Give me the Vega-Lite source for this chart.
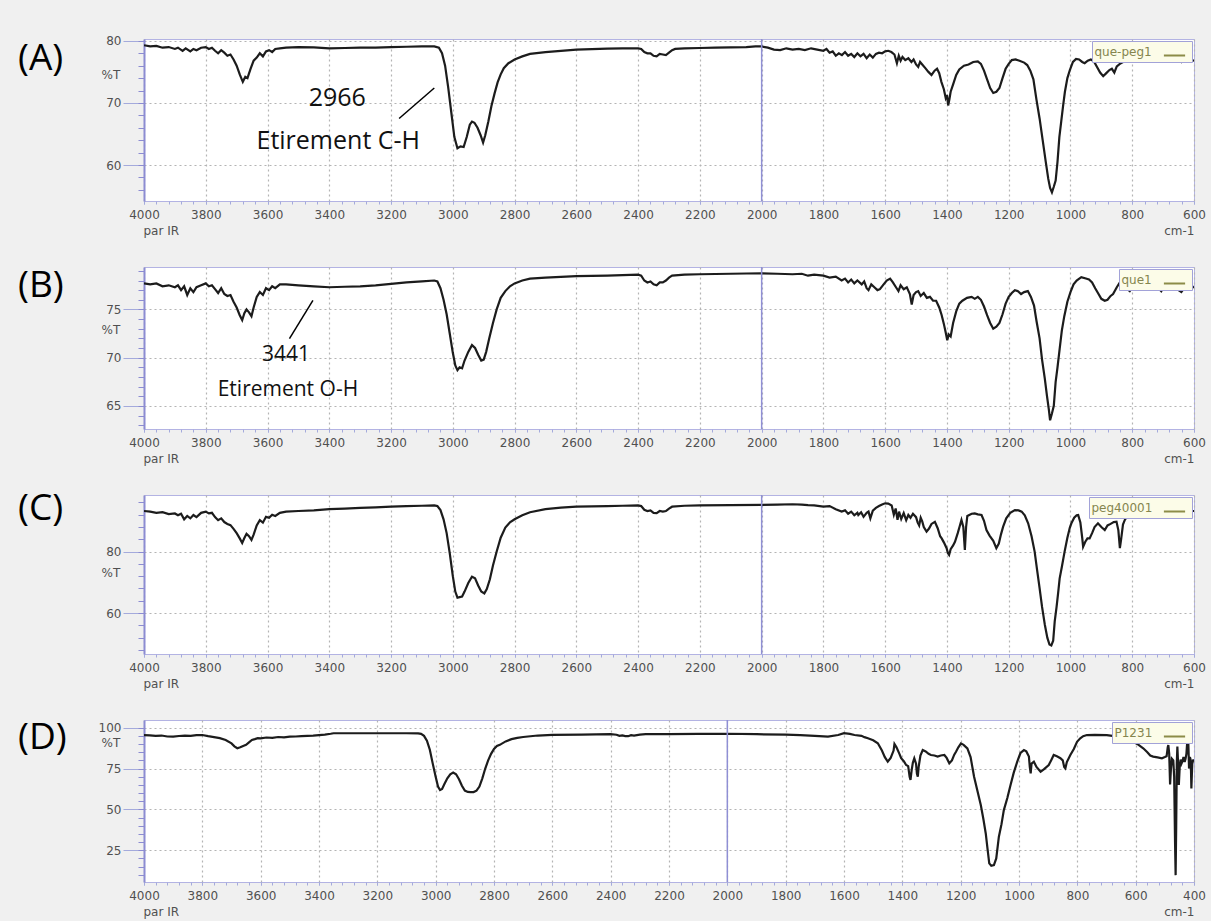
{
"$schema": "https://vega.github.io/schema/vega-lite/v6.json",
"background": "#f0f0f0",
"padding": {"left": 17, "top": 34, "right": 5, "bottom": 5},
"bounds": "flush",
"spacing": 66,
"resolve": {"scale": {"color": "independent", "x": "independent", "y": "independent"}, "legend": {"color": "independent"}},
"config": {
 "view": {"fill": "#ffffff", "stroke": "#b3b3e3", "strokeWidth": 1},
 "axis": {"labelFont": "DejaVu Sans", "labelFontSize": 12, "labelColor": "#505050", "titleFont": "DejaVu Sans", "titleFontSize": 12, "titleFontWeight": "normal", "titleColor": "#505050", "gridColor": "#b4b4b4", "gridDash": [2, 3], "gridWidth": 1.2, "tickColor": "#a4aadc", "domainColor": "#8c8cd2", "labelOverlap": false, "labelFlush": false},
 "legend": {"orient": "top-right", "offset": 2, "titleOrient": "left", "titleFont": "DejaVu Sans", "titleFontSize": 12, "titleFontWeight": "normal", "titleColor": "#85854e", "titlePadding": 10, "titleLimit": 200, "symbolType": "stroke", "symbolStrokeWidth": 2, "symbolSize": 450, "labelFontSize": 1, "labelOffset": 0, "padding": 2.5, "fillColor": "#fcfce8", "strokeColor": "#a2a2d8"},
 "title": {"font": "Open Sans", "fontSize": 37, "fontWeight": "normal", "color": "#000000", "anchor": "start", "frame": "group", "offset": 0}
},
"datasets": {
"A": [
{"w":4000,"T":79.3},{"w":3980,"T":79.1},{"w":3960,"T":79.2},{"w":3940,"T":78.9},{"w":3920,"T":79.0},{"w":3900,"T":78.7},{"w":3890,"T":78.9},{"w":3875,"T":78.4},{"w":3865,"T":78.8},{"w":3850,"T":78.3},{"w":3840,"T":78.7},{"w":3830,"T":78.5},{"w":3815,"T":78.9},{"w":3800,"T":79.0},{"w":3790,"T":78.7},{"w":3780,"T":78.9},{"w":3770,"T":78.4},{"w":3760,"T":78.0},{"w":3750,"T":78.5},{"w":3740,"T":78.1},{"w":3730,"T":77.6},{"w":3720,"T":77.8},{"w":3710,"T":77.0},{"w":3700,"T":76.0},{"w":3690,"T":74.6},{"w":3680,"T":73.4},{"w":3672,"T":74.2},{"w":3665,"T":74.0},{"w":3655,"T":75.5},{"w":3645,"T":76.8},{"w":3635,"T":77.3},{"w":3625,"T":78.0},{"w":3615,"T":77.5},{"w":3605,"T":78.3},{"w":3595,"T":78.5},{"w":3585,"T":78.2},{"w":3575,"T":78.7},{"w":3560,"T":78.8},{"w":3540,"T":78.9},{"w":3500,"T":79.0},{"w":3450,"T":78.95},{"w":3400,"T":78.8},{"w":3350,"T":78.85},{"w":3300,"T":78.9},{"w":3250,"T":78.9},{"w":3200,"T":79.0},{"w":3150,"T":79.05},{"w":3100,"T":79.1},{"w":3060,"T":79.1},{"w":3045,"T":78.9},{"w":3035,"T":78.0},{"w":3025,"T":76.0},{"w":3015,"T":72.5},{"w":3005,"T":68.5},{"w":2995,"T":64.5},{"w":2985,"T":62.7},{"w":2975,"T":63.0},{"w":2965,"T":62.9},{"w":2955,"T":64.5},{"w":2945,"T":66.5},{"w":2938,"T":67.0},{"w":2930,"T":66.8},{"w":2920,"T":66.0},{"w":2910,"T":64.8},{"w":2902,"T":63.6},{"w":2895,"T":64.8},{"w":2885,"T":67.0},{"w":2875,"T":69.5},{"w":2865,"T":71.5},{"w":2855,"T":73.3},{"w":2845,"T":74.6},{"w":2835,"T":75.6},{"w":2820,"T":76.4},{"w":2800,"T":77.0},{"w":2775,"T":77.5},{"w":2750,"T":77.9},{"w":2700,"T":78.2},{"w":2650,"T":78.4},{"w":2600,"T":78.6},{"w":2500,"T":78.75},{"w":2450,"T":78.8},{"w":2400,"T":78.8},{"w":2390,"T":78.7},{"w":2380,"T":78.2},{"w":2370,"T":78.0},{"w":2360,"T":78.0},{"w":2350,"T":77.6},{"w":2340,"T":77.5},{"w":2330,"T":77.9},{"w":2320,"T":77.8},{"w":2310,"T":77.7},{"w":2300,"T":78.1},{"w":2290,"T":78.5},{"w":2280,"T":78.7},{"w":2250,"T":78.8},{"w":2200,"T":78.85},{"w":2150,"T":78.9},{"w":2100,"T":78.95},{"w":2050,"T":79.0},{"w":2020,"T":79.1},{"w":2000,"T":79.1},{"w":1980,"T":78.9},{"w":1960,"T":78.6},{"w":1940,"T":78.5},{"w":1920,"T":78.8},{"w":1900,"T":78.6},{"w":1880,"T":78.7},{"w":1860,"T":78.5},{"w":1840,"T":78.8},{"w":1820,"T":78.6},{"w":1800,"T":78.4},{"w":1790,"T":78.7},{"w":1780,"T":78.1},{"w":1770,"T":78.3},{"w":1760,"T":77.6},{"w":1750,"T":78.0},{"w":1740,"T":77.7},{"w":1730,"T":78.2},{"w":1720,"T":77.6},{"w":1710,"T":77.9},{"w":1700,"T":77.4},{"w":1690,"T":78.0},{"w":1680,"T":77.5},{"w":1670,"T":77.9},{"w":1660,"T":77.2},{"w":1650,"T":77.8},{"w":1640,"T":77.3},{"w":1630,"T":77.9},{"w":1620,"T":78.1},{"w":1610,"T":78.0},{"w":1600,"T":78.3},{"w":1590,"T":78.4},{"w":1580,"T":78.2},{"w":1570,"T":77.8},{"w":1562,"T":76.4},{"w":1556,"T":77.6},{"w":1550,"T":76.8},{"w":1544,"T":77.4},{"w":1535,"T":76.9},{"w":1525,"T":77.2},{"w":1515,"T":76.6},{"w":1508,"T":77.0},{"w":1500,"T":76.2},{"w":1493,"T":75.8},{"w":1487,"T":76.6},{"w":1480,"T":76.2},{"w":1470,"T":75.6},{"w":1460,"T":75.0},{"w":1450,"T":74.5},{"w":1440,"T":75.2},{"w":1432,"T":75.5},{"w":1425,"T":74.8},{"w":1418,"T":73.4},{"w":1410,"T":72.2},{"w":1404,"T":70.8},{"w":1400,"T":71.3},{"w":1396,"T":69.6},{"w":1392,"T":70.6},{"w":1388,"T":71.8},{"w":1380,"T":73.0},{"w":1370,"T":74.5},{"w":1360,"T":75.4},{"w":1345,"T":76.0},{"w":1330,"T":76.2},{"w":1315,"T":76.6},{"w":1300,"T":76.7},{"w":1290,"T":76.3},{"w":1280,"T":75.2},{"w":1270,"T":73.8},{"w":1260,"T":72.4},{"w":1250,"T":71.6},{"w":1240,"T":71.8},{"w":1230,"T":72.4},{"w":1220,"T":74.0},{"w":1210,"T":75.5},{"w":1200,"T":76.3},{"w":1190,"T":76.9},{"w":1178,"T":77.0},{"w":1165,"T":76.8},{"w":1150,"T":76.5},{"w":1140,"T":76.1},{"w":1130,"T":75.2},{"w":1120,"T":73.8},{"w":1110,"T":70.5},{"w":1100,"T":67.5},{"w":1090,"T":64.0},{"w":1080,"T":60.5},{"w":1072,"T":57.8},{"w":1066,"T":56.3},{"w":1060,"T":55.6},{"w":1054,"T":56.5},{"w":1048,"T":57.5},{"w":1042,"T":60.5},{"w":1036,"T":64.5},{"w":1030,"T":67.0},{"w":1024,"T":69.5},{"w":1018,"T":71.8},{"w":1010,"T":74.0},{"w":1002,"T":75.3},{"w":992,"T":76.6},{"w":982,"T":77.1},{"w":972,"T":77.0},{"w":962,"T":76.6},{"w":954,"T":76.4},{"w":944,"T":76.8},{"w":934,"T":77.0},{"w":924,"T":76.7},{"w":914,"T":75.8},{"w":904,"T":74.9},{"w":894,"T":74.3},{"w":884,"T":74.8},{"w":874,"T":75.3},{"w":866,"T":75.5},{"w":858,"T":74.9},{"w":850,"T":75.9},{"w":840,"T":76.3},{"w":830,"T":76.6},{"w":810,"T":77.1},{"w":790,"T":77.3},{"w":770,"T":77.5},{"w":750,"T":77.6},{"w":735,"T":77.6},{"w":715,"T":77.4},{"w":700,"T":77.2},{"w":685,"T":77.0},{"w":675,"T":77.3},{"w":660,"T":76.9},{"w":650,"T":77.0},{"w":640,"T":76.6},{"w":630,"T":77.0},{"w":615,"T":76.9},{"w":600,"T":76.8}
],
"B": [
{"w":4000,"T":77.7},{"w":3980,"T":77.6},{"w":3960,"T":77.7},{"w":3940,"T":77.4},{"w":3920,"T":77.5},{"w":3900,"T":77.3},{"w":3890,"T":77.5},{"w":3880,"T":77.0},{"w":3870,"T":77.4},{"w":3860,"T":76.5},{"w":3850,"T":77.2},{"w":3840,"T":76.8},{"w":3830,"T":77.3},{"w":3815,"T":77.5},{"w":3800,"T":77.7},{"w":3790,"T":77.4},{"w":3780,"T":77.5},{"w":3770,"T":77.1},{"w":3760,"T":76.7},{"w":3750,"T":77.2},{"w":3740,"T":76.6},{"w":3730,"T":76.4},{"w":3720,"T":76.5},{"w":3710,"T":75.8},{"w":3700,"T":75.2},{"w":3690,"T":74.4},{"w":3682,"T":73.9},{"w":3675,"T":74.6},{"w":3668,"T":75.0},{"w":3660,"T":74.7},{"w":3652,"T":74.3},{"w":3645,"T":75.2},{"w":3635,"T":76.3},{"w":3625,"T":76.8},{"w":3615,"T":76.5},{"w":3605,"T":77.2},{"w":3595,"T":77.0},{"w":3585,"T":77.4},{"w":3575,"T":77.2},{"w":3560,"T":77.6},{"w":3540,"T":77.6},{"w":3500,"T":77.5},{"w":3450,"T":77.4},{"w":3400,"T":77.3},{"w":3350,"T":77.35},{"w":3300,"T":77.4},{"w":3250,"T":77.5},{"w":3200,"T":77.65},{"w":3150,"T":77.8},{"w":3100,"T":77.9},{"w":3060,"T":78.0},{"w":3050,"T":77.9},{"w":3040,"T":77.2},{"w":3030,"T":76.0},{"w":3020,"T":74.5},{"w":3010,"T":72.5},{"w":3000,"T":70.5},{"w":2992,"T":69.2},{"w":2985,"T":68.7},{"w":2978,"T":69.0},{"w":2970,"T":68.9},{"w":2962,"T":69.7},{"w":2950,"T":70.6},{"w":2938,"T":71.3},{"w":2928,"T":71.0},{"w":2918,"T":70.3},{"w":2908,"T":69.7},{"w":2900,"T":69.8},{"w":2892,"T":70.6},{"w":2882,"T":72.0},{"w":2870,"T":73.6},{"w":2858,"T":75.0},{"w":2845,"T":76.2},{"w":2830,"T":76.9},{"w":2815,"T":77.4},{"w":2800,"T":77.7},{"w":2775,"T":78.0},{"w":2750,"T":78.2},{"w":2700,"T":78.3},{"w":2600,"T":78.45},{"w":2500,"T":78.5},{"w":2450,"T":78.55},{"w":2400,"T":78.6},{"w":2390,"T":78.5},{"w":2380,"T":78.0},{"w":2370,"T":77.8},{"w":2360,"T":77.9},{"w":2350,"T":77.6},{"w":2340,"T":77.5},{"w":2330,"T":77.8},{"w":2320,"T":77.8},{"w":2310,"T":78.0},{"w":2300,"T":78.3},{"w":2290,"T":78.5},{"w":2250,"T":78.6},{"w":2200,"T":78.65},{"w":2100,"T":78.7},{"w":2000,"T":78.75},{"w":1950,"T":78.7},{"w":1900,"T":78.65},{"w":1870,"T":78.7},{"w":1850,"T":78.5},{"w":1830,"T":78.6},{"w":1800,"T":78.5},{"w":1780,"T":78.3},{"w":1760,"T":78.4},{"w":1741,"T":78.0},{"w":1730,"T":78.2},{"w":1720,"T":77.8},{"w":1710,"T":78.1},{"w":1700,"T":77.7},{"w":1690,"T":78.0},{"w":1676,"T":77.6},{"w":1668,"T":77.9},{"w":1660,"T":77.2},{"w":1654,"T":77.0},{"w":1645,"T":77.6},{"w":1635,"T":77.3},{"w":1625,"T":77.0},{"w":1617,"T":77.1},{"w":1605,"T":77.6},{"w":1595,"T":78.0},{"w":1584,"T":78.2},{"w":1575,"T":77.8},{"w":1565,"T":77.3},{"w":1557,"T":76.9},{"w":1550,"T":77.5},{"w":1540,"T":77.1},{"w":1530,"T":77.3},{"w":1520,"T":76.6},{"w":1514,"T":75.5},{"w":1508,"T":76.5},{"w":1500,"T":76.8},{"w":1493,"T":76.9},{"w":1485,"T":76.4},{"w":1475,"T":76.7},{"w":1465,"T":76.2},{"w":1455,"T":76.3},{"w":1445,"T":75.9},{"w":1435,"T":75.9},{"w":1425,"T":75.2},{"w":1417,"T":74.4},{"w":1410,"T":73.5},{"w":1404,"T":72.6},{"w":1399,"T":71.8},{"w":1394,"T":72.4},{"w":1388,"T":72.2},{"w":1380,"T":73.6},{"w":1370,"T":74.8},{"w":1360,"T":75.6},{"w":1350,"T":75.9},{"w":1335,"T":76.2},{"w":1320,"T":76.3},{"w":1310,"T":76.1},{"w":1300,"T":76.3},{"w":1290,"T":76.0},{"w":1280,"T":75.3},{"w":1270,"T":74.4},{"w":1260,"T":73.6},{"w":1250,"T":73.0},{"w":1240,"T":73.2},{"w":1230,"T":73.6},{"w":1220,"T":74.5},{"w":1210,"T":75.6},{"w":1200,"T":76.3},{"w":1190,"T":76.7},{"w":1180,"T":77.0},{"w":1170,"T":76.9},{"w":1160,"T":76.6},{"w":1150,"T":76.8},{"w":1138,"T":76.9},{"w":1128,"T":76.3},{"w":1118,"T":75.4},{"w":1110,"T":73.8},{"w":1100,"T":72.0},{"w":1092,"T":69.8},{"w":1083,"T":67.8},{"w":1076,"T":66.0},{"w":1070,"T":64.6},{"w":1066,"T":63.5},{"w":1060,"T":64.2},{"w":1054,"T":65.0},{"w":1048,"T":67.5},{"w":1042,"T":69.0},{"w":1035,"T":70.9},{"w":1028,"T":72.8},{"w":1020,"T":74.3},{"w":1010,"T":75.8},{"w":1000,"T":76.8},{"w":990,"T":77.6},{"w":980,"T":78.0},{"w":965,"T":78.35},{"w":950,"T":78.2},{"w":940,"T":78.1},{"w":930,"T":77.8},{"w":920,"T":77.2},{"w":911,"T":76.7},{"w":900,"T":76.1},{"w":889,"T":75.9},{"w":880,"T":76.0},{"w":870,"T":76.4},{"w":862,"T":76.6},{"w":850,"T":77.3},{"w":840,"T":77.8},{"w":835,"T":78.0},{"w":825,"T":77.6},{"w":815,"T":77.1},{"w":808,"T":76.9},{"w":798,"T":77.4},{"w":790,"T":77.8},{"w":781,"T":77.9},{"w":760,"T":77.8},{"w":740,"T":77.7},{"w":727,"T":77.4},{"w":715,"T":77.2},{"w":706,"T":76.9},{"w":698,"T":77.3},{"w":690,"T":77.8},{"w":684,"T":77.9},{"w":670,"T":77.6},{"w":660,"T":77.3},{"w":650,"T":77.0},{"w":641,"T":76.8},{"w":632,"T":77.2},{"w":625,"T":77.9},{"w":619,"T":78.0},{"w":610,"T":77.6},{"w":603,"T":77.3},{"w":600,"T":77.3}
],
"C": [
{"w":4000,"T":93.2},{"w":3980,"T":93.0},{"w":3960,"T":92.6},{"w":3940,"T":92.8},{"w":3920,"T":92.2},{"w":3900,"T":92.4},{"w":3890,"T":91.8},{"w":3880,"T":92.3},{"w":3870,"T":90.5},{"w":3860,"T":91.6},{"w":3850,"T":90.8},{"w":3840,"T":91.9},{"w":3830,"T":91.2},{"w":3815,"T":92.6},{"w":3800,"T":93.0},{"w":3790,"T":92.4},{"w":3780,"T":92.6},{"w":3770,"T":91.2},{"w":3760,"T":90.2},{"w":3750,"T":90.8},{"w":3740,"T":89.6},{"w":3730,"T":89.0},{"w":3720,"T":88.6},{"w":3710,"T":87.4},{"w":3700,"T":86.0},{"w":3690,"T":84.3},{"w":3682,"T":82.8},{"w":3675,"T":84.4},{"w":3668,"T":85.8},{"w":3660,"T":85.0},{"w":3652,"T":83.8},{"w":3645,"T":85.5},{"w":3635,"T":88.5},{"w":3625,"T":90.2},{"w":3615,"T":89.4},{"w":3605,"T":91.3},{"w":3595,"T":91.0},{"w":3585,"T":92.0},{"w":3575,"T":91.6},{"w":3560,"T":92.6},{"w":3540,"T":93.0},{"w":3500,"T":93.2},{"w":3450,"T":93.4},{"w":3400,"T":93.8},{"w":3350,"T":94.0},{"w":3300,"T":94.2},{"w":3250,"T":94.4},{"w":3200,"T":94.6},{"w":3150,"T":94.8},{"w":3100,"T":94.9},{"w":3060,"T":95.0},{"w":3050,"T":94.8},{"w":3040,"T":93.5},{"w":3030,"T":90.5},{"w":3020,"T":86.0},{"w":3010,"T":79.5},{"w":3000,"T":72.0},{"w":2992,"T":67.0},{"w":2985,"T":65.0},{"w":2978,"T":65.2},{"w":2970,"T":65.4},{"w":2962,"T":67.0},{"w":2950,"T":69.8},{"w":2938,"T":71.8},{"w":2928,"T":71.3},{"w":2918,"T":69.0},{"w":2908,"T":67.0},{"w":2898,"T":66.4},{"w":2890,"T":67.8},{"w":2880,"T":71.0},{"w":2870,"T":75.5},{"w":2858,"T":80.0},{"w":2845,"T":84.5},{"w":2830,"T":87.8},{"w":2815,"T":89.5},{"w":2800,"T":90.5},{"w":2775,"T":91.8},{"w":2750,"T":92.8},{"w":2700,"T":93.8},{"w":2650,"T":94.3},{"w":2600,"T":94.6},{"w":2500,"T":94.8},{"w":2450,"T":94.9},{"w":2400,"T":95.0},{"w":2390,"T":94.8},{"w":2380,"T":93.6},{"w":2370,"T":93.2},{"w":2360,"T":93.4},{"w":2350,"T":92.6},{"w":2340,"T":92.5},{"w":2330,"T":93.2},{"w":2320,"T":93.0},{"w":2310,"T":93.2},{"w":2300,"T":94.0},{"w":2290,"T":94.6},{"w":2250,"T":94.9},{"w":2200,"T":95.0},{"w":2100,"T":95.1},{"w":2000,"T":95.2},{"w":1950,"T":95.3},{"w":1900,"T":95.4},{"w":1870,"T":95.3},{"w":1850,"T":95.1},{"w":1830,"T":95.0},{"w":1800,"T":94.6},{"w":1780,"T":94.8},{"w":1760,"T":93.8},{"w":1741,"T":93.0},{"w":1730,"T":93.4},{"w":1720,"T":92.3},{"w":1710,"T":93.0},{"w":1700,"T":91.8},{"w":1690,"T":92.6},{"w":1687,"T":91.9},{"w":1678,"T":92.8},{"w":1670,"T":91.3},{"w":1660,"T":92.6},{"w":1654,"T":93.0},{"w":1648,"T":90.8},{"w":1640,"T":93.3},{"w":1630,"T":94.2},{"w":1620,"T":94.8},{"w":1610,"T":95.3},{"w":1600,"T":95.7},{"w":1590,"T":95.6},{"w":1579,"T":95.0},{"w":1572,"T":92.0},{"w":1566,"T":94.0},{"w":1560,"T":90.3},{"w":1555,"T":93.0},{"w":1548,"T":90.6},{"w":1540,"T":92.5},{"w":1532,"T":90.2},{"w":1525,"T":91.9},{"w":1518,"T":91.0},{"w":1510,"T":92.3},{"w":1500,"T":91.2},{"w":1495,"T":89.5},{"w":1490,"T":88.5},{"w":1485,"T":91.0},{"w":1480,"T":89.8},{"w":1475,"T":88.0},{"w":1466,"T":86.5},{"w":1458,"T":87.5},{"w":1450,"T":89.0},{"w":1439,"T":89.7},{"w":1430,"T":87.6},{"w":1422,"T":85.0},{"w":1417,"T":84.3},{"w":1410,"T":83.0},{"w":1401,"T":81.1},{"w":1397,"T":79.5},{"w":1393,"T":78.9},{"w":1388,"T":80.8},{"w":1380,"T":82.0},{"w":1374,"T":83.2},{"w":1365,"T":86.0},{"w":1358,"T":88.5},{"w":1353,"T":90.3},{"w":1347,"T":88.0},{"w":1342,"T":80.5},{"w":1338,"T":88.0},{"w":1334,"T":91.6},{"w":1320,"T":92.3},{"w":1310,"T":92.4},{"w":1300,"T":92.1},{"w":1288,"T":91.9},{"w":1280,"T":90.0},{"w":1272,"T":87.0},{"w":1262,"T":85.2},{"w":1250,"T":83.5},{"w":1240,"T":81.1},{"w":1232,"T":82.6},{"w":1225,"T":85.6},{"w":1218,"T":88.1},{"w":1208,"T":90.8},{"w":1195,"T":92.6},{"w":1180,"T":93.5},{"w":1168,"T":93.4},{"w":1158,"T":93.0},{"w":1148,"T":91.8},{"w":1137,"T":89.2},{"w":1126,"T":85.0},{"w":1116,"T":80.0},{"w":1108,"T":74.0},{"w":1100,"T":68.1},{"w":1092,"T":62.0},{"w":1083,"T":56.2},{"w":1075,"T":52.0},{"w":1068,"T":49.8},{"w":1062,"T":49.5},{"w":1056,"T":51.0},{"w":1051,"T":57.3},{"w":1045,"T":62.0},{"w":1040,"T":66.5},{"w":1035,"T":71.3},{"w":1028,"T":75.0},{"w":1019,"T":80.0},{"w":1010,"T":84.5},{"w":1002,"T":87.8},{"w":997,"T":89.2},{"w":988,"T":91.0},{"w":980,"T":91.8},{"w":975,"T":91.9},{"w":968,"T":89.5},{"w":962,"T":84.5},{"w":959,"T":81.6},{"w":952,"T":83.2},{"w":945,"T":84.3},{"w":938,"T":84.3},{"w":930,"T":86.0},{"w":922,"T":88.0},{"w":911,"T":89.2},{"w":900,"T":88.0},{"w":889,"T":87.0},{"w":880,"T":88.5},{"w":870,"T":89.0},{"w":860,"T":89.6},{"w":851,"T":89.7},{"w":845,"T":87.0},{"w":840,"T":81.1},{"w":836,"T":84.0},{"w":830,"T":88.8},{"w":824,"T":90.3},{"w":815,"T":91.7},{"w":805,"T":92.8},{"w":792,"T":93.5},{"w":780,"T":93.6},{"w":760,"T":93.4},{"w":740,"T":93.5},{"w":720,"T":93.3},{"w":700,"T":93.4},{"w":690,"T":92.8},{"w":684,"T":93.0},{"w":670,"T":93.4},{"w":650,"T":93.1},{"w":630,"T":93.4},{"w":610,"T":93.2},{"w":600,"T":93.2}
],
"D": [
{"w":4000,"T":95.5},{"w":3980,"T":95.3},{"w":3960,"T":95.0},{"w":3940,"T":95.2},{"w":3920,"T":94.6},{"w":3900,"T":94.5},{"w":3880,"T":94.9},{"w":3860,"T":95.1},{"w":3840,"T":95.0},{"w":3820,"T":95.4},{"w":3800,"T":95.5},{"w":3780,"T":94.8},{"w":3760,"T":94.2},{"w":3740,"T":93.6},{"w":3720,"T":92.5},{"w":3700,"T":90.4},{"w":3690,"T":88.6},{"w":3680,"T":87.4},{"w":3670,"T":88.0},{"w":3660,"T":88.8},{"w":3650,"T":89.5},{"w":3640,"T":91.0},{"w":3630,"T":92.5},{"w":3620,"T":93.0},{"w":3610,"T":93.6},{"w":3600,"T":93.5},{"w":3580,"T":94.0},{"w":3560,"T":93.8},{"w":3540,"T":94.3},{"w":3520,"T":94.1},{"w":3500,"T":94.5},{"w":3480,"T":94.6},{"w":3460,"T":94.8},{"w":3440,"T":95.0},{"w":3420,"T":95.2},{"w":3400,"T":95.5},{"w":3380,"T":95.8},{"w":3360,"T":96.3},{"w":3350,"T":96.6},{"w":3300,"T":96.6},{"w":3200,"T":96.6},{"w":3100,"T":96.6},{"w":3060,"T":96.5},{"w":3050,"T":96.2},{"w":3040,"T":95.0},{"w":3030,"T":92.0},{"w":3020,"T":86.5},{"w":3010,"T":78.0},{"w":3000,"T":70.0},{"w":2992,"T":64.0},{"w":2985,"T":61.8},{"w":2978,"T":62.5},{"w":2970,"T":65.5},{"w":2960,"T":69.0},{"w":2950,"T":71.5},{"w":2940,"T":72.6},{"w":2930,"T":71.5},{"w":2920,"T":68.5},{"w":2910,"T":64.5},{"w":2900,"T":61.5},{"w":2890,"T":60.7},{"w":2880,"T":60.6},{"w":2870,"T":60.6},{"w":2860,"T":61.5},{"w":2850,"T":64.0},{"w":2840,"T":69.0},{"w":2830,"T":75.0},{"w":2820,"T":80.0},{"w":2810,"T":84.0},{"w":2800,"T":87.0},{"w":2790,"T":88.8},{"w":2780,"T":89.5},{"w":2760,"T":91.6},{"w":2740,"T":93.0},{"w":2720,"T":93.8},{"w":2700,"T":94.3},{"w":2650,"T":95.2},{"w":2600,"T":95.6},{"w":2500,"T":95.8},{"w":2450,"T":95.9},{"w":2400,"T":96.0},{"w":2380,"T":95.7},{"w":2370,"T":95.0},{"w":2360,"T":95.3},{"w":2350,"T":94.8},{"w":2340,"T":94.8},{"w":2330,"T":95.4},{"w":2320,"T":95.2},{"w":2300,"T":95.8},{"w":2280,"T":96.0},{"w":2200,"T":96.1},{"w":2100,"T":96.2},{"w":2000,"T":96.3},{"w":1900,"T":96.0},{"w":1800,"T":95.8},{"w":1750,"T":95.5},{"w":1700,"T":95.0},{"w":1655,"T":94.5},{"w":1620,"T":95.5},{"w":1600,"T":96.6},{"w":1580,"T":96.2},{"w":1564,"T":95.5},{"w":1540,"T":95.0},{"w":1530,"T":94.2},{"w":1518,"T":93.5},{"w":1500,"T":92.3},{"w":1484,"T":90.5},{"w":1470,"T":86.0},{"w":1460,"T":82.0},{"w":1450,"T":79.2},{"w":1440,"T":81.5},{"w":1430,"T":86.0},{"w":1427,"T":90.0},{"w":1420,"T":88.0},{"w":1410,"T":84.0},{"w":1404,"T":81.3},{"w":1395,"T":79.5},{"w":1387,"T":77.2},{"w":1380,"T":76.5},{"w":1375,"T":70.0},{"w":1372,"T":68.0},{"w":1368,"T":74.0},{"w":1364,"T":78.5},{"w":1359,"T":81.3},{"w":1353,"T":78.0},{"w":1350,"T":72.0},{"w":1347,"T":70.0},{"w":1344,"T":76.0},{"w":1338,"T":83.0},{"w":1330,"T":86.3},{"w":1320,"T":85.5},{"w":1310,"T":84.0},{"w":1302,"T":83.3},{"w":1290,"T":83.0},{"w":1279,"T":82.3},{"w":1268,"T":83.0},{"w":1256,"T":83.3},{"w":1248,"T":81.5},{"w":1239,"T":78.2},{"w":1230,"T":80.0},{"w":1222,"T":83.5},{"w":1216,"T":85.3},{"w":1208,"T":88.0},{"w":1199,"T":90.4},{"w":1190,"T":89.5},{"w":1177,"T":87.3},{"w":1166,"T":82.0},{"w":1154,"T":70.0},{"w":1142,"T":61.0},{"w":1131,"T":52.7},{"w":1122,"T":44.0},{"w":1114,"T":35.3},{"w":1108,"T":26.0},{"w":1102,"T":17.0},{"w":1095,"T":15.5},{"w":1086,"T":15.9},{"w":1078,"T":20.0},{"w":1069,"T":33.3},{"w":1060,"T":41.0},{"w":1052,"T":49.6},{"w":1040,"T":57.0},{"w":1029,"T":64.9},{"w":1018,"T":72.5},{"w":1006,"T":79.2},{"w":995,"T":84.5},{"w":983,"T":86.3},{"w":975,"T":85.5},{"w":966,"T":82.3},{"w":963,"T":76.0},{"w":960,"T":72.1},{"w":957,"T":78.0},{"w":949,"T":79.2},{"w":940,"T":76.0},{"w":926,"T":73.1},{"w":915,"T":74.5},{"w":898,"T":77.2},{"w":890,"T":80.0},{"w":881,"T":83.3},{"w":870,"T":82.5},{"w":858,"T":81.3},{"w":850,"T":80.0},{"w":845,"T":76.0},{"w":841,"T":75.1},{"w":836,"T":79.0},{"w":824,"T":83.3},{"w":812,"T":87.0},{"w":801,"T":91.4},{"w":790,"T":93.5},{"w":780,"T":94.8},{"w":767,"T":95.5},{"w":740,"T":95.6},{"w":699,"T":95.5},{"w":680,"T":95.0},{"w":660,"T":94.5},{"w":640,"T":93.8},{"w":631,"T":93.5},{"w":610,"T":91.5},{"w":590,"T":89.5},{"w":574,"T":87.4},{"w":560,"T":85.0},{"w":550,"T":83.0},{"w":540,"T":82.3},{"w":525,"T":81.8},{"w":510,"T":81.3},{"w":500,"T":82.0},{"w":494,"T":82.5},{"w":490,"T":88.0},{"w":488,"T":89.4},{"w":485,"T":84.0},{"w":482,"T":65.3},{"w":479,"T":75.0},{"w":476,"T":81.0},{"w":471,"T":80.0},{"w":468,"T":70.0},{"w":465,"T":30.0},{"w":463,"T":9.8},{"w":461,"T":40.0},{"w":459,"T":78.0},{"w":457,"T":88.4},{"w":455,"T":80.0},{"w":452,"T":65.0},{"w":449,"T":76.0},{"w":446,"T":80.5},{"w":443,"T":78.0},{"w":440,"T":79.2},{"w":436,"T":82.0},{"w":432,"T":79.0},{"w":429,"T":81.0},{"w":426,"T":84.0},{"w":423,"T":92.0},{"w":421,"T":99.6},{"w":419,"T":88.0},{"w":417,"T":75.0},{"w":414,"T":82.0},{"w":411,"T":80.0},{"w":409,"T":62.8},{"w":406,"T":78.0},{"w":403,"T":80.0},{"w":400,"T":80.0}
]
},
"vconcat": [
{
 "width": 1050, "height": 162,
 "title": {"text": "(A)", "dx": -126, "dy": 47},
 "resolve": {"axis": {"x": "independent", "y": "independent"}},
 "layer": [
  {"data": {"name": "A"}, "mark": {"type": "line", "strokeWidth": 2.2, "clip": true, "color": "#1c1c1c"},
   "encoding": {
    "x": {"field": "w", "type": "quantitative", "scale": {"domain": [4000, 600], "nice": false, "zero": false},
     "axis": {"orient": "bottom", "values": [4000,3800,3600,3400,3200,3000,2800,2600,2400,2200,2000,1800,1600,1400,1200,1000,800,600], "format": "d", "grid": true, "domain": false, "tickSize": 3, "labelPadding": 5, "title": "cm-1", "titleX": 1050, "titleY": 29, "titleAlign": "right", "titleBaseline": "middle"}},
    "y": {"field": "T", "type": "quantitative", "scale": {"domain": [54.2, 80.3], "nice": false, "zero": false},
     "axis": {"orient": "left", "values": [60, 70, 80], "grid": true, "domain": false, "tickSize": 21, "labelPadding": 2, "title": "%T", "titleAngle": 0, "titleX": -43, "titleY": 35, "titleAlign": "left", "titleBaseline": "middle"}}
   }},
  {"data": {"values": [{}]}, "mark": {"type": "rule", "color": "#8f8fd4", "strokeWidth": 1.5},
   "encoding": {
    "x": {"datum": 2000, "type": "quantitative", "axis": {"orient": "bottom", "values": [4000,3960,3920,3880,3840,3800,3760,3720,3680,3640,3600,3560,3520,3480,3440,3400,3360,3320,3280,3240,3200,3160,3120,3080,3040,3000,2960,2920,2880,2840,2800,2760,2720,2680,2640,2600,2560,2520,2480,2440,2400,2360,2320,2280,2240,2200,2160,2120,2080,2040,2000,1960,1920,1880,1840,1800,1760,1720,1680,1640,1600,1560,1520,1480,1440,1400,1360,1320,1280,1240,1200,1160,1120,1080,1040,1000,960,920,880,840,800,760,720,680,640,600], "labels": false, "grid": false, "domain": false, "tickSize": 3, "title": "par IR", "titleX": -1, "titleY": 29, "titleAlign": "left", "titleBaseline": "middle"}},
    "y": {"datum": 54.2, "type": "quantitative", "axis": {"orient": "left", "values": [56,58,60,62,64,66,68,70,72,74,76,78,80], "labels": false, "grid": false, "domain": true, "domainWidth": 2, "tickSize": 6, "tickColor": "#8c8cd2", "title": null}},
    "y2": {"datum": 80.3}
   }},
  {"data": {"values": [{}]}, "mark": {"type": "rule", "strokeWidth": 2, "strokeCap": "butt"},
   "encoding": {
    "x": {"datum": 2000, "type": "quantitative", "axis": null},
    "y": {"datum": 80.3, "type": "quantitative", "axis": null},
    "y2": {"datum": 80.3},
    "color": {"datum": "que-peg1", "type": "nominal", "scale": {"range": ["#8c8c48"]}, "legend": {"title": "que-peg1", "labelExpr": "''"}}
   }},
  {"data": {"values": [{"w": 3174, "T": 67.5, "w2": 3060, "T2": 72.4}]}, "mark": {"type": "rule", "color": "#000000", "strokeWidth": 1.5},
   "encoding": {"x": {"field": "w", "type": "quantitative", "axis": null}, "y": {"field": "T", "type": "quantitative", "axis": null}, "x2": {"field": "w2"}, "y2": {"field": "T2"}}},
  {"data": {"values": [{"w": 3374, "T": 70.8, "t": "2966"}, {"w": 3371, "T": 63.8, "t": "Etirement C-H"}]}, "mark": {"type": "text", "font": "Open Sans", "fontSize": 25, "align": "center", "baseline": "middle", "color": "#111111"},
   "encoding": {"x": {"field": "w", "type": "quantitative", "axis": null}, "y": {"field": "T", "type": "quantitative", "axis": null}, "text": {"field": "t"}}}
 ]
},
{
 "width": 1050, "height": 162,
 "title": {"text": "(B)", "dx": -126, "dy": 43},
 "resolve": {"axis": {"x": "independent", "y": "independent"}},
 "layer": [
  {"data": {"name": "B"}, "mark": {"type": "line", "strokeWidth": 2.2, "clip": true, "color": "#1c1c1c"},
   "encoding": {
    "x": {"field": "w", "type": "quantitative", "scale": {"domain": [4000, 600], "nice": false, "zero": false},
     "axis": {"orient": "bottom", "values": [4000,3800,3600,3400,3200,3000,2800,2600,2400,2200,2000,1800,1600,1400,1200,1000,800,600], "format": "d", "grid": true, "domain": false, "tickSize": 3, "labelPadding": 5, "title": "cm-1", "titleX": 1050, "titleY": 29, "titleAlign": "right", "titleBaseline": "middle"}},
    "y": {"field": "T", "type": "quantitative", "scale": {"domain": [62.6, 79.4], "nice": false, "zero": false},
     "axis": {"orient": "left", "values": [65, 70, 75], "grid": true, "domain": false, "tickSize": 21, "labelPadding": 2, "title": "%T", "titleAngle": 0, "titleX": -43, "titleY": 62, "titleAlign": "left", "titleBaseline": "middle"}}
   }},
  {"data": {"values": [{}]}, "mark": {"type": "rule", "color": "#8f8fd4", "strokeWidth": 1.5},
   "encoding": {
    "x": {"datum": 2000, "type": "quantitative", "axis": {"orient": "bottom", "values": [4000,3960,3920,3880,3840,3800,3760,3720,3680,3640,3600,3560,3520,3480,3440,3400,3360,3320,3280,3240,3200,3160,3120,3080,3040,3000,2960,2920,2880,2840,2800,2760,2720,2680,2640,2600,2560,2520,2480,2440,2400,2360,2320,2280,2240,2200,2160,2120,2080,2040,2000,1960,1920,1880,1840,1800,1760,1720,1680,1640,1600,1560,1520,1480,1440,1400,1360,1320,1280,1240,1200,1160,1120,1080,1040,1000,960,920,880,840,800,760,720,680,640,600], "labels": false, "grid": false, "domain": false, "tickSize": 3, "title": "par IR", "titleX": -1, "titleY": 29, "titleAlign": "left", "titleBaseline": "middle"}},
    "y": {"datum": 62.6, "type": "quantitative", "axis": {"orient": "left", "values": [63,64,65,66,67,68,69,70,71,72,73,74,75,76,77,78,79], "labels": false, "grid": false, "domain": true, "domainWidth": 2, "tickSize": 6, "tickColor": "#8c8cd2", "title": null}},
    "y2": {"datum": 79.4}
   }},
  {"data": {"values": [{}]}, "mark": {"type": "rule", "strokeWidth": 2, "strokeCap": "butt"},
   "encoding": {
    "x": {"datum": 2000, "type": "quantitative", "axis": null},
    "y": {"datum": 79.4, "type": "quantitative", "axis": null},
    "y2": {"datum": 79.4},
    "color": {"datum": "que1", "type": "nominal", "scale": {"range": ["#8c8c48"]}, "legend": {"title": "que1", "labelExpr": "''"}}
   }},
  {"data": {"values": [{"w": 3453, "T": 75.93, "w2": 3529, "T2": 71.97}]}, "mark": {"type": "rule", "color": "#000000", "strokeWidth": 1.5},
   "encoding": {"x": {"field": "w", "type": "quantitative", "axis": null}, "y": {"field": "T", "type": "quantitative", "axis": null}, "x2": {"field": "w2"}, "y2": {"field": "T2"}}},
  {"data": {"values": [{"w": 3540, "T": 70.24, "t": "3441"}, {"w": 3534, "T": 66.6, "t": "Etirement O-H"}]}, "mark": {"type": "text", "font": "Open Sans", "fontSize": 21, "align": "center", "baseline": "middle", "color": "#111111"},
   "encoding": {"x": {"field": "w", "type": "quantitative", "axis": null}, "y": {"field": "T", "type": "quantitative", "axis": null}, "text": {"field": "t"}}}
 ]
},
{
 "width": 1050, "height": 159,
 "title": {"text": "(C)", "dx": -126, "dy": 38},
 "resolve": {"axis": {"x": "independent", "y": "independent"}},
 "layer": [
  {"data": {"name": "C"}, "mark": {"type": "line", "strokeWidth": 2.2, "clip": true, "color": "#1c1c1c"},
   "encoding": {
    "x": {"field": "w", "type": "quantitative", "scale": {"domain": [4000, 600], "nice": false, "zero": false},
     "axis": {"orient": "bottom", "values": [4000,3800,3600,3400,3200,3000,2800,2600,2400,2200,2000,1800,1600,1400,1200,1000,800,600], "format": "d", "grid": true, "domain": false, "tickSize": 3, "labelPadding": 5, "title": "cm-1", "titleX": 1050, "titleY": 29, "titleAlign": "right", "titleBaseline": "middle"}},
    "y": {"field": "T", "type": "quantitative", "scale": {"domain": [46.7, 98.4], "nice": false, "zero": false},
     "axis": {"orient": "left", "values": [60, 80], "grid": true, "domain": false, "tickSize": 21, "labelPadding": 2, "title": "%T", "titleAngle": 0, "titleX": -43, "titleY": 77, "titleAlign": "left", "titleBaseline": "middle"}}
   }},
  {"data": {"values": [{}]}, "mark": {"type": "rule", "color": "#8f8fd4", "strokeWidth": 1.5},
   "encoding": {
    "x": {"datum": 2000, "type": "quantitative", "axis": {"orient": "bottom", "values": [4000,3960,3920,3880,3840,3800,3760,3720,3680,3640,3600,3560,3520,3480,3440,3400,3360,3320,3280,3240,3200,3160,3120,3080,3040,3000,2960,2920,2880,2840,2800,2760,2720,2680,2640,2600,2560,2520,2480,2440,2400,2360,2320,2280,2240,2200,2160,2120,2080,2040,2000,1960,1920,1880,1840,1800,1760,1720,1680,1640,1600,1560,1520,1480,1440,1400,1360,1320,1280,1240,1200,1160,1120,1080,1040,1000,960,920,880,840,800,760,720,680,640,600], "labels": false, "grid": false, "domain": false, "tickSize": 3, "title": "par IR", "titleX": -1, "titleY": 29, "titleAlign": "left", "titleBaseline": "middle"}},
    "y": {"datum": 46.7, "type": "quantitative", "axis": {"orient": "left", "values": [48,52,56,60,64,68,72,76,80,84,88,92,96], "labels": false, "grid": false, "domain": true, "domainWidth": 2, "tickSize": 6, "tickColor": "#8c8cd2", "title": null}},
    "y2": {"datum": 98.4}
   }},
  {"data": {"values": [{}]}, "mark": {"type": "rule", "strokeWidth": 2, "strokeCap": "butt"},
   "encoding": {
    "x": {"datum": 2000, "type": "quantitative", "axis": null},
    "y": {"datum": 98.4, "type": "quantitative", "axis": null},
    "y2": {"datum": 98.4},
    "color": {"datum": "peg40001", "type": "nominal", "scale": {"range": ["#8c8c48"]}, "legend": {"title": "peg40001", "labelExpr": "''"}}
   }}
 ]
},
{
 "width": 1050, "height": 162,
 "title": {"text": "(D)", "dx": -126, "dy": 42},
 "resolve": {"axis": {"x": "independent", "y": "independent"}},
 "layer": [
  {"data": {"name": "D"}, "mark": {"type": "line", "strokeWidth": 2.2, "clip": true, "color": "#1c1c1c"},
   "encoding": {
    "x": {"field": "w", "type": "quantitative", "scale": {"domain": [4000, 400], "nice": false, "zero": false},
     "axis": {"orient": "bottom", "values": [4000,3800,3600,3400,3200,3000,2800,2600,2400,2200,2000,1800,1600,1400,1200,1000,800,600,400], "format": "d", "grid": true, "domain": false, "tickSize": 3, "labelPadding": 5, "title": "cm-1", "titleX": 1050, "titleY": 29, "titleAlign": "right", "titleBaseline": "middle"}},
    "y": {"field": "T", "type": "quantitative", "scale": {"domain": [5.6, 104.7], "nice": false, "zero": false},
     "axis": {"orient": "left", "values": [25, 50, 75, 100], "grid": true, "domain": false, "tickSize": 21, "labelPadding": 2, "title": "%T", "titleAngle": 0, "titleX": -43, "titleY": 22, "titleAlign": "left", "titleBaseline": "middle"}}
   }},
  {"data": {"values": [{}]}, "mark": {"type": "rule", "color": "#8f8fd4", "strokeWidth": 1.5},
   "encoding": {
    "x": {"datum": 2000, "type": "quantitative", "axis": {"orient": "bottom", "values": [4000,3960,3920,3880,3840,3800,3760,3720,3680,3640,3600,3560,3520,3480,3440,3400,3360,3320,3280,3240,3200,3160,3120,3080,3040,3000,2960,2920,2880,2840,2800,2760,2720,2680,2640,2600,2560,2520,2480,2440,2400,2360,2320,2280,2240,2200,2160,2120,2080,2040,2000,1960,1920,1880,1840,1800,1760,1720,1680,1640,1600,1560,1520,1480,1440,1400,1360,1320,1280,1240,1200,1160,1120,1080,1040,1000,960,920,880,840,800,760,720,680,640,600,560,520,480,440,400], "labels": false, "grid": false, "domain": false, "tickSize": 3, "title": "par IR", "titleX": -1, "titleY": 29, "titleAlign": "left", "titleBaseline": "middle"}},
    "y": {"datum": 5.6, "type": "quantitative", "axis": {"orient": "left", "values": [10,15,20,25,30,35,40,45,50,55,60,65,70,75,80,85,90,95,100], "labels": false, "grid": false, "domain": true, "domainWidth": 2, "tickSize": 6, "tickColor": "#8c8cd2", "title": null}},
    "y2": {"datum": 104.7}
   }},
  {"data": {"values": [{}]}, "mark": {"type": "rule", "strokeWidth": 2, "strokeCap": "butt"},
   "encoding": {
    "x": {"datum": 2000, "type": "quantitative", "axis": null},
    "y": {"datum": 104.7, "type": "quantitative", "axis": null},
    "y2": {"datum": 104.7},
    "color": {"datum": "P1231", "type": "nominal", "scale": {"range": ["#8c8c48"]}, "legend": {"title": "P1231", "labelExpr": "''"}}
   }}
 ]
}
]
}
